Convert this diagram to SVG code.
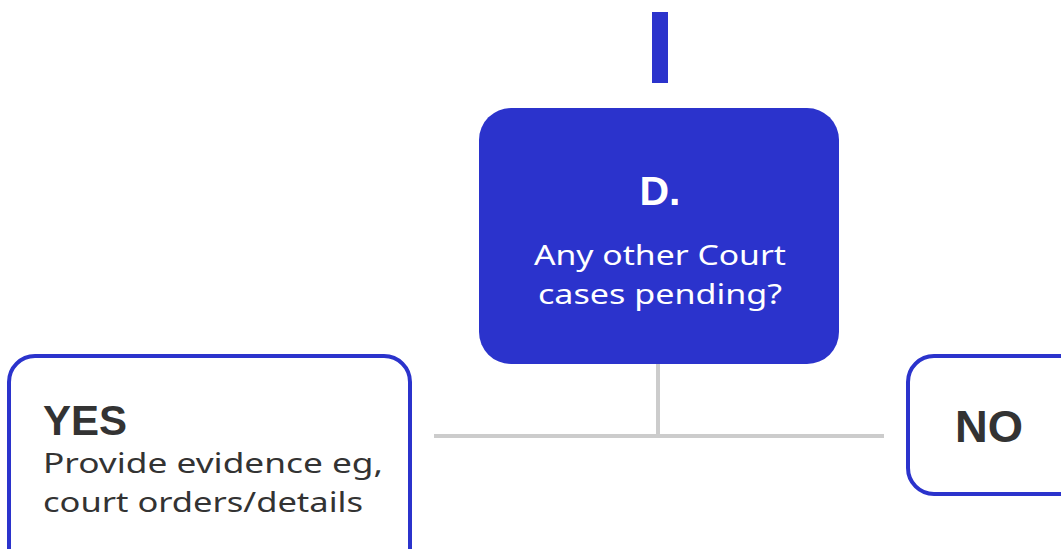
<svg xmlns="http://www.w3.org/2000/svg" width="1061" height="549" viewBox="0 0 1061 549">
<style>
.blue{fill:#2b33cc}
.outline{fill:#ffffff;stroke:#2b33cc;stroke-width:4}
.conn{stroke:#cccccc;stroke-width:4;fill:none}
.bold{font-family:"Liberation Sans",Arial,sans-serif;font-weight:bold;fill:#333333}
.reg{font-family:"Noto Sans","Liberation Sans",Arial,sans-serif;fill:#333333}
.wbold{font-family:"Liberation Sans",Arial,sans-serif;font-weight:bold;fill:#ffffff}
.wreg{font-family:"Noto Sans","Liberation Sans",Arial,sans-serif;fill:#ffffff}
</style>
<rect width="1061" height="549" fill="#ffffff"/>
<g id="connectors">
<rect x="652" y="12" width="16" height="71" class="blue"/>
<line x1="658" y1="364" x2="658" y2="436" class="conn"/>
<line x1="434" y1="436" x2="884" y2="436" class="conn"/>
</g>
<g id="node-d">
<rect x="479" y="108" width="360" height="256" rx="32" class="blue"/>
<text x="660" y="205" text-anchor="middle" font-size="41" class="wbold">D.</text>
<text x="660" y="265" text-anchor="middle" font-size="28" class="wreg" textLength="252" lengthAdjust="spacingAndGlyphs">Any other Court</text>
<text x="660" y="304" text-anchor="middle" font-size="28" class="wreg" textLength="244" lengthAdjust="spacingAndGlyphs">cases pending?</text>
</g>
<g id="node-yes">
<rect x="9" y="356" width="401" height="220" rx="26" class="outline"/>
<text x="43" y="435" font-size="42" class="bold">YES</text>
<text x="43" y="473" font-size="28" class="reg" textLength="340" lengthAdjust="spacingAndGlyphs">Provide evidence eg,</text>
<text x="43" y="512" font-size="28" class="reg" textLength="320" lengthAdjust="spacingAndGlyphs">court orders/details</text>
</g>
<g id="node-no">
<rect x="908" y="356" width="180" height="138" rx="26" class="outline"/>
<text x="989" y="442" text-anchor="middle" font-size="44" class="bold" textLength="68" lengthAdjust="spacingAndGlyphs">NO</text>
</g>
</svg>
